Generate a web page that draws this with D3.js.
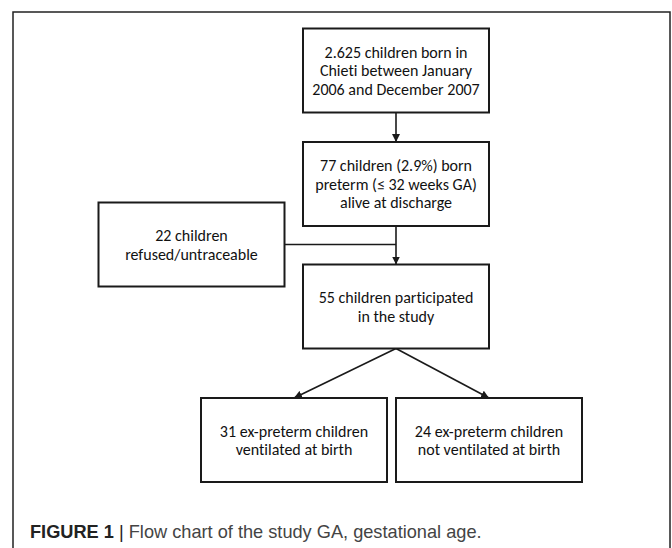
<!DOCTYPE html>
<html>
<head>
<meta charset="utf-8">
<script src="https://cdn.jsdelivr.net/npm/d3@7"></script>
<style>
  body { margin: 0; background: #fff; }
  svg { display: block; }
</style>
</head>
<body>
<div class="flow-chart"></div>
<script>
// study flow: one box per group of children
const nodeIds = ['born', 'preterm', 'lost', 'participated', 'ventilated', 'notVentilated'];
const nodeText = [
  ['2.625 children born in', 'Chieti between January', '2006 and December 2007'],
  ['77 children (2.9%) born', 'preterm (\u2264 32 weeks GA)', 'alive at discharge'],
  ['22 children', 'refused/untraceable'],
  ['55 children participated', 'in the study'],
  ['31 ex-preterm children', 'ventilated at birth'],
  ['24 ex-preterm children', 'not ventilated at birth']
];
const nodeCol = ['mid', 'mid', 'side', 'mid', 'low1', 'low2'];
const nodeRow = ['r1', 'r2', 'r2b', 'r3', 'r4', 'r4'];

// arrows between boxes
const linkFrom = ['born', 'preterm', 'participated', 'participated'];
const linkTo = ['preterm', 'participated', 'ventilated', 'notVentilated'];

const captionBold = 'FIGURE 1';
const captionText = 'Flow chart of the study GA, gestational age.';

const width = 672, height = 548;
const boxW = 186, boxH = 84;

const svg = d3.select('.flow-chart')
  .append('svg')
  .attr('width', width)
  .attr('height', height);

// marker for arrow heads
svg.append('defs').append('marker')
  .attr('id', 'head')
  .attr('viewBox', '0 0 10 10')
  .attr('refX', 10)
  .attr('refY', 5)
  .attr('markerWidth', 8)
  .attr('markerHeight', 8)
  .attr('markerUnits', 'userSpaceOnUse')
  .attr('orient', 'auto')
  .append('path')
  .attr('d', 'M0,0L10,5L0,10z')
  .attr('fill', '#1a1a1a');

// outer frame (runs past the bottom of the picture)
svg.append('rect')
  .attr('x', 13)
  .attr('y', 12)
  .attr('width', 657)
  .attr('height', 600)
  .attr('fill', 'none')
  .attr('stroke', '#222')
  .attr('stroke-width', 1.5);

const x = d3.scaleOrdinal()
  .domain(['side', 'mid', 'low1', 'low2'])
  .range([191.5, 396, 294, 489]);
const y = d3.scaleOrdinal()
  .domain(['r1', 'r2', 'r2b', 'r3', 'r4'])
  .range([70.5, 184, 244.5, 306.5, 440]);

const nodes = nodeIds.map((id, i) => ({
  id: id,
  lines: nodeText[i],
  cx: x(nodeCol[i]),
  cy: y(nodeRow[i])
}));
const byId = {};
nodes.forEach(n => byId[n.id] = n);

// links
const links = linkFrom.map((f, i) => ({ s: byId[f], t: byId[linkTo[i]] }));
svg.append('g')
  .selectAll('line')
  .data(links)
  .enter()
  .append('line')
  .attr('x1', d => d.s.cx)
  .attr('y1', d => d.s.cy + boxH / 2)
  .attr('x2', d => d.t.cx)
  .attr('y2', d => d.t.cy - boxH / 2)
  .attr('stroke', '#1a1a1a')
  .attr('stroke-width', 1.6)
  .attr('marker-end', 'url(#head)');

// side branch joins the main line
const lost = byId['lost'];
svg.append('line')
  .attr('x1', lost.cx + boxW / 2)
  .attr('y1', lost.cy)
  .attr('x2', byId['preterm'].cx)
  .attr('y2', lost.cy)
  .attr('stroke', '#1a1a1a')
  .attr('stroke-width', 1.6);

// boxes
const box = svg.append('g')
  .selectAll('g')
  .data(nodes)
  .enter()
  .append('g')
  .attr('transform', d => `translate(${d.cx},${d.cy})`);

box.append('rect')
  .attr('x', -boxW / 2)
  .attr('y', -boxH / 2)
  .attr('width', boxW)
  .attr('height', boxH)
  .attr('fill', '#fff')
  .attr('stroke', '#1a1a1a')
  .attr('stroke-width', 2);

const lineH = 18.6;
box.append('text')
  .attr('text-anchor', 'middle')
  .style('font-family', 'Carlito, Calibri, Lato, sans-serif')
  .style('font-size', '16px')
  .style('font-variant-ligatures', 'none')
  .attr('fill', '#111')
  .selectAll('tspan')
  .data(d => d.lines.map((l, i) => ({ l: l, i: i, n: d.lines.length })))
  .enter()
  .append('tspan')
  .attr('x', 0)
  .attr('y', d => (d.i - (d.n - 1) / 2) * lineH + 5.8)
  .text(d => d.l);

// caption
const cap = svg.append('text')
  .attr('x', 30)
  .attr('y', 538)
  .style('font-family', '"Liberation Sans", Arial, sans-serif')
  .style('font-size', '18.2px');
cap.append('tspan')
  .attr('font-weight', 'bold')
  .attr('fill', '#222')
  .text(captionBold);
cap.append('tspan')
  .attr('fill', '#222')
  .text(' | ');
cap.append('tspan')
  .attr('fill', '#444')
  .text(captionText);
</script>
</body>
</html>
